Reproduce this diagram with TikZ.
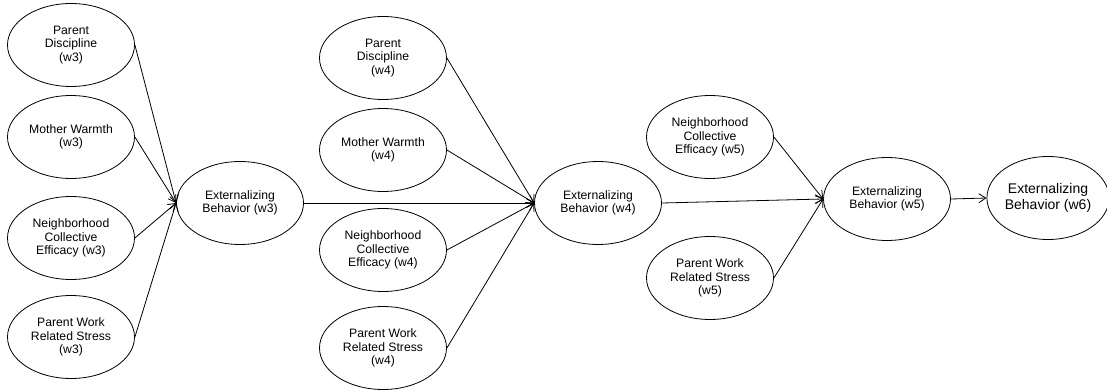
\documentclass[tikz,border=0pt]{standalone}
\usepackage{fontspec}
\setmainfont{Liberation Sans}
\usetikzlibrary{shapes.geometric,arrows.meta}

\begin{document}
\begin{tikzpicture}[x=1pt, y=-1pt, line width=0.8pt, >={Straight Barb[length=7pt,width=9pt]},
    var/.style={ellipse, draw, minimum width=127pt, minimum height=83pt, inner sep=0pt, align=center, font=\fontsize{12.2}{13.5}\selectfont}]
\useasboundingbox (0,0) rectangle (1107,390);
\node[var] (PD3) at (71,45)  {Parent\\Discipline\\(w3)};
\node[var] (MW3) at (71,137) {Mother Warmth\\(w3)};
\node[var] (NC3) at (71,238) {Neighborhood\\Collective\\Efficacy (w3)};
\node[var] (PW3) at (71,337) {Parent Work\\Related Stress\\(w3)};
\node[var] (EB3) at (240,203) {Externalizing\\Behavior (w3)};

\node[var] (PD4) at (383,58)  {Parent\\Discipline\\(w4)};
\node[var] (MW4) at (383,150) {Mother Warmth\\(w4)};
\node[var] (NC4) at (383,250) {Neighborhood\\Collective\\Efficacy (w4)};
\node[var] (PW4) at (383,348) {Parent Work\\Related Stress\\(w4)};
\node[var] (EB4) at (598,203) {Externalizing\\Behavior (w4)};

\node[var] (NC5) at (710,137) {Neighborhood\\Collective\\Efficacy (w5)};
\node[var] (PW5) at (710,278) {Parent Work\\Related Stress\\(w5)};
\node[var] (EB5) at (887,199) {Externalizing\\Behavior (w5)};
\node[var, minimum width=120pt, font=\fontsize{14}{16}\selectfont] (EB6) at (1048,198) {Externalizing\\Behavior (w6)};

\draw[->] (PD3.east) -- (EB3.west);
\draw[->] (MW3.east) -- (EB3.west);
\draw[->] (NC3.east) -- (EB3.west);
\draw[->] (PW3.east) -- (EB3.west);

\draw[->] (EB3.east) -- (EB4.west);
\draw[->] (PD4.east) -- (EB4.west);
\draw[->] (MW4.east) -- (EB4.west);
\draw[->] (NC4.east) -- (EB4.west);
\draw[->] (PW4.east) -- (EB4.west);

\draw[->] (EB4.east) -- (EB5.west);
\draw[->] (NC5.east) -- (EB5.west);
\draw[->] (PW5.east) -- (EB5.west);

\draw[->] (EB5.east) -- (EB6.west);
\end{tikzpicture}
\end{document}
